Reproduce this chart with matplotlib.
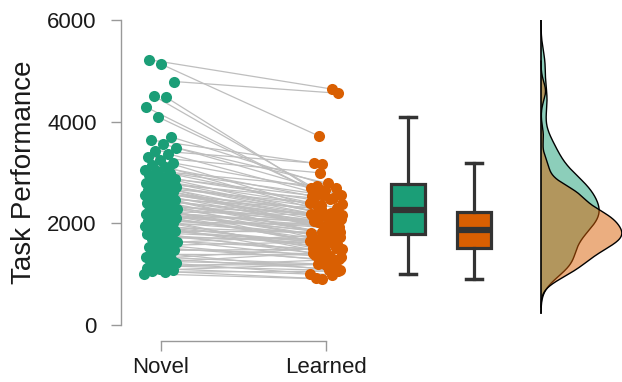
import numpy as np
import matplotlib
matplotlib.use("Agg")
import matplotlib.pyplot as plt

plt.rcParams['font.family'] = ['Liberation Sans', 'DejaVu Sans']

categories = ['Novel', 'Learned']
y_label = 'Task Performance'
y_ticks = [0, 2000, 4000, 6000]

novel = [1010, 1040, 1065, 1090, 1105, 1130, 1160, 1175, 1210, 1240, 1255, 1290, 1310, 1345,
         1390, 1430, 1470, 1495, 1540, 1570, 1585, 1630, 1660, 1700, 1715, 1760, 1785,
         1805, 1815, 1845, 1870, 1875, 1905, 1930, 1950, 1975, 1990, 2005, 2030, 2050, 2065,
         2090, 2110, 2115, 2140, 2155, 2170, 2185, 2200, 2210, 2225, 2235, 2245, 2255,
         2275, 2285, 2315, 2340, 2350, 2375, 2395, 2405, 2440, 2455, 2465, 2495, 2520, 2535,
         2560, 2575, 2600, 2620, 2640, 2655, 2680, 2700, 2715, 2735, 2745, 2760, 2775,
         2800, 2815, 2860, 2870, 2905, 2950, 2990, 3030, 3050, 3110, 3140, 3190, 3240, 3310,
         3370, 3430, 3490, 3560, 3640, 3700, 4090, 4290, 4480, 4510, 4790, 5130, 5220]

learned = [907, 1058, 915, 1202, 1002, 1280, 1070, 1191, 985, 1416, 1186, 1090, 1514, 1188,
           1379, 1087, 1494, 1392, 1273, 1633, 1264, 1755, 1485, 1303, 1693, 1604, 1472,
           1665, 1342, 1830, 1510, 1634, 1354, 1812, 1616, 2013, 1553, 1773, 1521, 1955, 1735,
           1442, 1906, 1699, 2057, 1647, 1838, 1588, 2018, 1805, 2165, 1732, 1919, 1606,
           1720, 2040, 1815, 2170, 1672, 1960, 2060, 1800, 2190, 1794, 1990, 2300, 1910, 2150,
           1786, 2090, 2280, 1905, 2180, 2030, 2400, 1890, 2160, 2320, 2050, 2500, 2140,
           1820, 2362, 2150, 2540, 2174, 2375, 2563, 2301, 2735, 2196, 2537, 2651, 2180, 2994,
           2505, 3187, 2788, 2556, 3162, 2703, 2620, 2480, 2700, 2580, 4560, 3720, 4640]

colors = ['#1b9e77', '#d95f02']

fig = plt.figure(figsize=(6.22, 3.82), dpi=100)
ax = fig.add_axes([121 / 622, 57 / 382, 501 / 622, 305 / 382])
ax.set_xlim(0.758, 3.794)
ax.set_ylim(0, 6000)

pos_pts = [1, 2]
pos_box = [2.497, 2.897]
pos_dens = 3.303

nv = np.asarray(novel, float)
lv = np.asarray(learned, float)
idx = np.arange(len(nv))
jn = ((idx * 0.618034) % 1 - 0.5) * 0.2
jl = ((idx * 0.414214 + 0.37) % 1 - 0.5) * 0.2

for i in range(len(nv)):
    ax.plot([pos_pts[0] + jn[i], pos_pts[1] + jl[i]], [nv[i], lv[i]],
            color='#bebebe', lw=0.9, zorder=1)

ax.scatter(pos_pts[0] + jn, nv, s=64, color=colors[0], linewidths=0, zorder=3)
ax.scatter(pos_pts[1] + jl, lv, s=64, color=colors[1], linewidths=0, zorder=3)

for data, p, c in zip([nv, lv], pos_box, colors):
    ax.boxplot([data], positions=[p], widths=0.21, whis=1.5, showfliers=False,
               patch_artist=True, manage_ticks=False,
               boxprops=dict(facecolor=c, edgecolor='#333333', linewidth=2.3),
               medianprops=dict(color='#333333', linewidth=4.5),
               whiskerprops=dict(color='#333333', linewidth=2.3),
               capprops=dict(color='#333333', linewidth=2.5),
               capwidths=0.1)


def kde(data):
    n = len(data)
    sd = np.std(data, ddof=1)
    q1, q3 = np.percentile(data, [25, 75])
    bw = 0.9 * min(sd, (q3 - q1) / 1.34) * n ** -0.2
    grid = np.linspace(data.min() - 3 * bw, data.max() + 3 * bw, 512)
    d = np.exp(-0.5 * ((grid[:, None] - data[None, :]) / bw) ** 2).sum(1)
    d /= (n * bw * np.sqrt(2 * np.pi))
    return grid, d


dens = [kde(nv), kde(lv)]
scale = 0.49 / max(d.max() for _, d in dens)
lo = min(g.min() for g, _ in dens)
hi = max(g.max() for g, _ in dens)
for (g, d), c in zip(dens, colors):
    ax.fill_betweenx(g, pos_dens, pos_dens + d * scale, facecolor=c, alpha=0.5,
                     linewidth=0, zorder=2)
    ax.plot(pos_dens + d * scale, g, color='black', lw=1.0, zorder=2)
ax.plot([pos_dens, pos_dens], [lo, hi], color='black', lw=1.2, zorder=2)

for s in ['top', 'right']:
    ax.spines[s].set_visible(False)
ax.spines['left'].set_bounds(0, 6000)
ax.spines['bottom'].set_bounds(1, 2)
ax.spines['bottom'].set_position(('outward', 11.5))
for s in ['left', 'bottom']:
    ax.spines[s].set_color('#999999')
    ax.spines[s].set_linewidth(1.0)

ax.set_yticks(y_ticks)
ax.set_yticklabels([str(t) for t in y_ticks])
ax.set_xticks(pos_pts)
ax.set_xticklabels(categories)
ax.tick_params(axis='both', colors='#999999', labelcolor='#1a1a1a', labelsize=16,
               length=7.5, width=1.0, direction='out')
ax.tick_params(axis='y', pad=10)
ax.tick_params(axis='x', pad=4)
ax.set_ylabel(y_label, fontsize=20, color='#1a1a1a')
ax.yaxis.set_label_coords(-0.168, 0.5)

fig.savefig('out.png', dpi=100)
